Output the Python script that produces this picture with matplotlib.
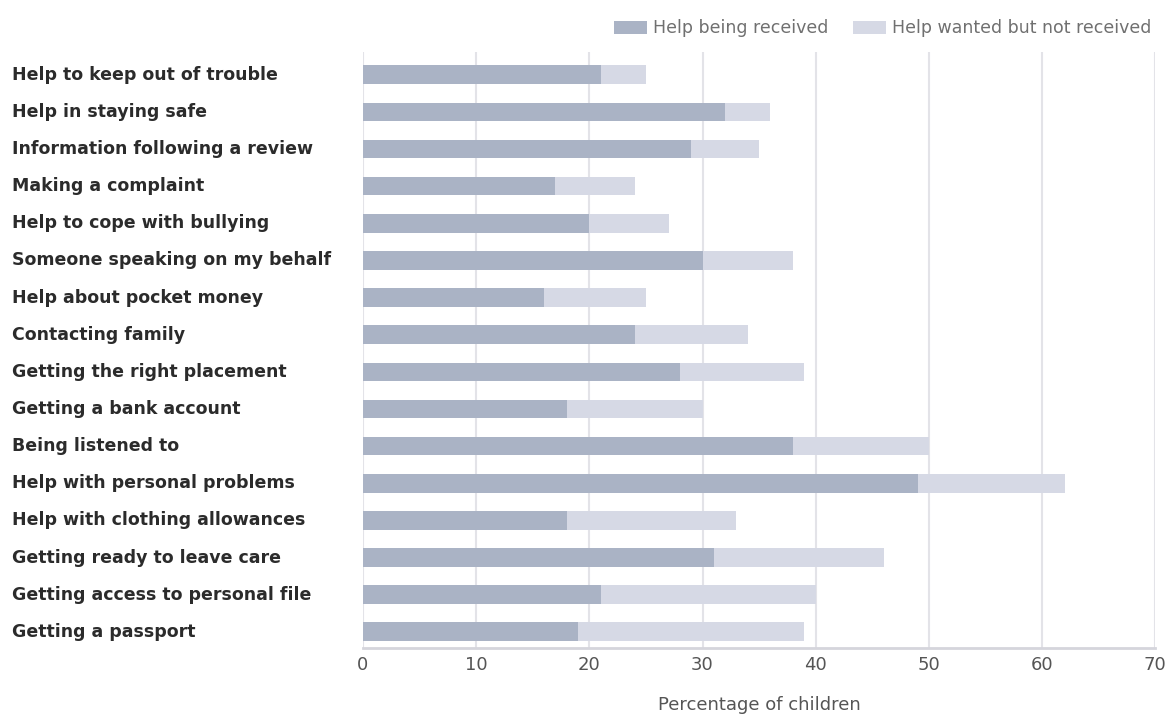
import matplotlib.pyplot as plt
import matplotlib as mpl

mpl.rcParams['font.family'] = ['DejaVu Sans']

categories = [
    "Help to keep out of trouble",
    "Help in staying safe",
    "Information following a review",
    "Making a complaint",
    "Help to cope with bullying",
    "Someone speaking on my behalf",
    "Help about pocket money",
    "Contacting family",
    "Getting the right placement",
    "Getting a bank account",
    "Being listened to",
    "Help with personal problems",
    "Help with clothing allowances",
    "Getting ready to leave care",
    "Getting access to personal file",
    "Getting a passport",
]
received = [21, 32, 29, 17, 20, 30, 16, 24, 28, 18, 38, 49, 18, 31, 21, 19]
total = [25, 36, 35, 24, 27, 38, 25, 34, 39, 30, 50, 62, 33, 46, 40, 39]
wanted = [t - r for t, r in zip(total, received)]

fig = plt.figure(figsize=(11.67, 7.27), dpi=100)
ax = fig.add_axes([0.311, 0.109, 0.679, 0.82])

ys = list(range(len(categories)))
ax.barh(ys, received, height=0.5, color="#aab3c5", label="Help being received", zorder=2)
ax.barh(ys, wanted, left=received, height=0.5, color="#d6d9e5",
        label="Help wanted but not received", zorder=2)

ax.set_ylim(15.43, -0.62)
ax.set_xlim(0, 70)
ax.set_xticks(range(0, 71, 10))
ax.set_yticks(ys)
ax.set_yticklabels([])

# category labels are left aligned at the figure edge
trans = mpl.transforms.blended_transform_factory(fig.transFigure, ax.transData)
for y, c in zip(ys, categories):
    fig.text(12 / 1167, y, c, transform=trans, fontsize=12.5, fontweight="bold",
             color="#2b2b2b", va="center", ha="left")

ax.grid(axis="x", color="#e3e3e8", linewidth=1.5, zorder=0)
for s in ["top", "right", "left"]:
    ax.spines[s].set_visible(False)
ax.spines["bottom"].set_color("#d5d5dc")
ax.spines["bottom"].set_linewidth(2)
ax.tick_params(axis="y", length=0)
ax.tick_params(axis="x", length=0, labelsize=13, labelcolor="#555555", pad=6)
ax.set_xlabel("Percentage of children", fontsize=13, color="#555555", labelpad=16)

fig.legend(loc="upper right", bbox_to_anchor=(1.0, 0.995), ncol=2, frameon=False,
           fontsize=12.5, labelcolor="#707070", handlelength=1.9, handleheight=0.8,
           columnspacing=1.4, handletextpad=0.35)

plt.savefig("out.png", dpi=100)
